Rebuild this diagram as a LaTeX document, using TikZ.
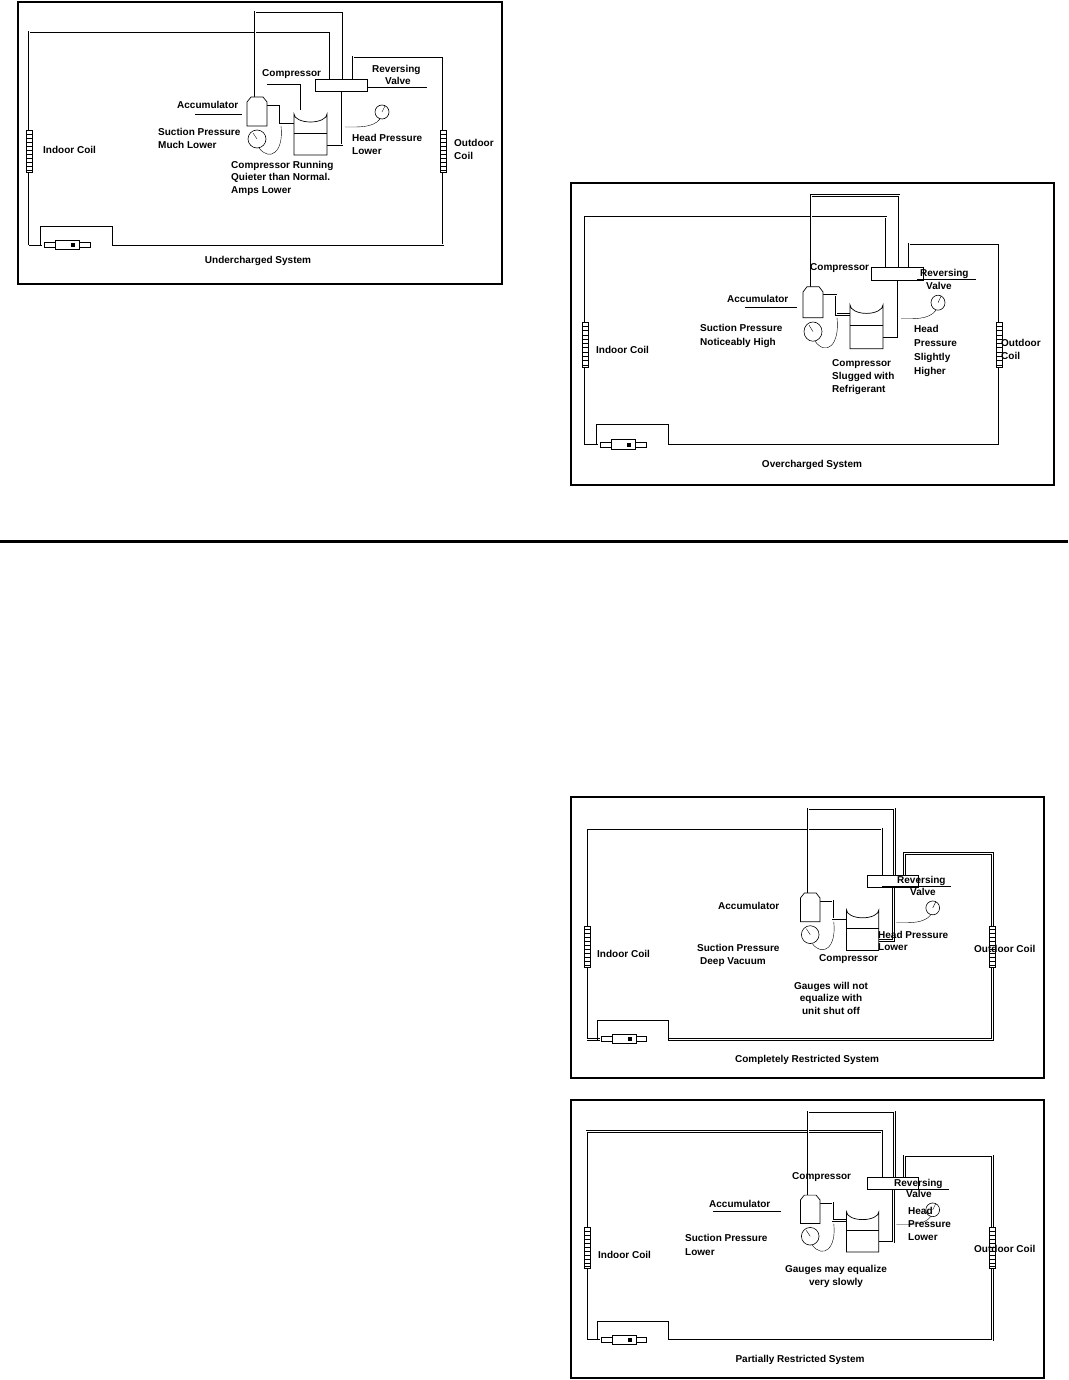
\documentclass[tikz,border=0pt]{standalone}
\usepackage{fontspec}
\setmainfont{Liberation Sans}
\usetikzlibrary{positioning}
\tikzset{
    % pipes drawn as hollow lines
    pipe/.style={draw=black, line width=2.4pt, line join=miter, postaction={draw=white, line width=1pt}},
    frame/.style={draw=black, line width=1.6pt},
    lbl/.style={font=\fontsize{10}{12}\selectfont\bfseries, inner sep=0pt, anchor=base west},
    ttl/.style={font=\fontsize{10}{12}\selectfont\bfseries, inner sep=0pt, anchor=base},
    lead/.style={draw=black, line width=0.5pt}
}
% one system drawing, in the coordinates of the first panel
\newcommand{\heatpump}{%
  % main loop
  \draw[pipe] (11,243) -- (11,30) -- (312,30) -- (312,77);
  \draw[pipe] (94,243) -- (425,243) -- (425,55) -- (335,55) -- (335,77);
  \draw[pipe] (11,243) -- (24,243);
  % accumulator loop
  \draw[pipe] (237,95) -- (237,10) -- (325,10) -- (325,77);
  \draw[pipe] (245,103) -- (262,103) -- (262,121) -- (276,121);
  \draw[pipe] (309,143) -- (324,143) -- (324,89);
  % coils
  \foreach \cx in {11,425}{
    \draw[fill=white] (\cx-3,128) rectangle (\cx+3,170);
    \foreach \k in {0,...,9} \draw (\cx-3,132+\k*4) -- (\cx+3,132+\k*4);
  }
  % metering device
  \draw[line width=0.8pt] (22,243) -- (22,224) -- (94,224) -- (94,243);
  \draw[fill=white] (26,240) rectangle (37,245);
  \draw[fill=white] (37,238) rectangle (61,247);
  \draw[fill=black] (53,241) rectangle (56,244);
  \draw[fill=white] (61,240) rectangle (72,245);
  % reversing valve
  \draw[fill=white, line width=0.7pt] (297,77) rectangle (349,89);
  % accumulator
  \draw[fill=white, line width=0.7pt] (229,124) -- (229,100) -- (233,95) -- (245,95) -- (249,100) -- (249,124) -- cycle;
  % compressor
  \draw[fill=white, line width=0.7pt] (276,153) -- (276,112) arc (180:0:16.5 and 8) -- (309,153) -- cycle;
  \draw[line width=0.7pt] (276,131) -- (309,131);
  % gauges
  \draw[line width=0.6pt] (239,137) circle (9);
  \draw (239,137) -- (235,131);
  \draw (241,146) .. controls (252,160) and (266,150) .. (263,124);
  \draw[line width=0.6pt] (364,110) circle (7);
  \draw (364,110) -- (367,104);
  \draw (362,117) .. controls (355,126) and (340,125) .. (327,125);
}
\newcommand{\board}[4]{% x, y, xscale, yscale
  \begin{scope}[shift={(#1,#2)}, xscale=#3, yscale=#4]
    \heatpump
  \end{scope}
}
\begin{document}
\begin{tikzpicture}[x=1pt, y=-1pt]
\useasboundingbox (0,0) rectangle (1068,1380);
% undercharged
\draw[frame] (18,2) rectangle (502,284);
\board{18}{2}{1}{1}
\node[lbl] (comp1) at (262,77) {Compressor};
\draw[lead] (267,84) -- (300,84) -- (300,110);
\node[lbl] (rv1) at (372,73) {Reversing};
\node[lbl] (vv1) at (385,85) {Valve};
\draw[lead] (367,87) -- (427,87);
\node[lbl] (acc1) at (177,109) {Accumulator};
\draw[lead] (195,114) -- (242,114);
\node[lbl] (suc1) at (158,136) {Suction Pressure};
\node[lbl] (suc1b) at (158,149) {Much Lower};
\node[lbl] (hp1) at (352,142) {Head Pressure};
\node[lbl] (hp1b) at (352,155) {Lower};
\node[lbl] (run1) at (231,169) {Compressor Running};
\node[lbl] (run1b) at (231,181) {Quieter than Normal.};
\node[lbl] (run1c) at (231,194) {Amps Lower};
\node[lbl] (in1) at (43,154) {Indoor Coil};
\node[lbl] (out1) at (454,147) {Outdoor};
\node[lbl] (out1b) at (454,160) {Coil};
\node[ttl] (t1) at (258,263) {Undercharged System};
% overcharged
\draw[frame] (571,183) rectangle (1054,485);
\board{574}{185}{1}{1.07}
\node[lbl] (comp2) at (810,270) {Compressor};
\node[lbl] (rv2) at (920,276) {Reversing};
\node[lbl] (vv2) at (926,289) {Valve};
\draw[lead] (917,279) -- (976,279);
\node[lbl] (acc2) at (727,302) {Accumulator};
\draw[lead] (745,307) -- (797,307);
\node[lbl] (suc2) at (700,331) {Suction Pressure};
\node[lbl] (suc2b) at (700,345) {Noticeably High};
\node[lbl] (sl2) at (832,366) {Compressor};
\node[lbl] (sl2b) at (832,379) {Slugged with};
\node[lbl] (sl2c) at (832,392) {Refrigerant};
\node[lbl] (hp2) at (914,332) {Head};
\node[lbl] (hp2b) at (914,346) {Pressure};
\node[lbl] (hp2c) at (914,360) {Slightly};
\node[lbl] (hp2d) at (914,374) {Higher};
\node[lbl] (in2) at (596,353) {Indoor Coil};
\node[lbl] (out2) at (1001,346) {Outdoor};
\node[lbl] (out2b) at (1001,359) {Coil};
\node[ttl] (t2) at (812,467) {Overcharged System};
% divider
\draw[line width=3pt] (0,541) -- (1068,541);
% completely restricted
\draw[frame] (571,797) rectangle (1044,1078);
\board{576}{799}{0.98}{0.99}
\node[lbl] (rv3) at (897,883) {Reversing};
\node[lbl] (vv3) at (910,895) {Valve};
\draw[lead] (882,886) -- (951,886);
\node[lbl] (acc3) at (718,909) {Accumulator};
\node[lbl] (suc3) at (697,951) {Suction Pressure};
\node[lbl] (suc3b) at (700,964) {Deep Vacuum};
\node[lbl] (comp3) at (819,961) {Compressor};
\node[lbl] (hp3) at (878,938) {Head Pressure};
\node[lbl] (hp3b) at (878,950) {Lower};
\node[ttl] (g3) at (831,989) {Gauges will not};
\node[ttl] (g3b) at (831,1001) {equalize with};
\node[ttl] (g3c) at (831,1014) {unit shut off};
\node[lbl] (in3) at (597,957) {Indoor Coil};
\node[lbl] (out3) at (974,952) {Outdoor Coil};
\node[ttl] (t3) at (807,1062) {Completely Restricted System};
% partially restricted
\draw[frame] (571,1100) rectangle (1044,1378);
\board{576}{1102}{0.98}{0.98}
\node[lbl] (comp4) at (792,1179) {Compressor};
\node[lbl] (rv4) at (894,1186) {Reversing};
\node[lbl] (vv4) at (906,1197) {Valve};
\draw[lead] (878,1189) -- (949,1189);
\node[lbl] (acc4) at (709,1207) {Accumulator};
\draw[lead] (713,1211) -- (781,1211);
\node[lbl] (suc4) at (685,1241) {Suction Pressure};
\node[lbl] (suc4b) at (685,1255) {Lower};
\node[lbl] (hp4) at (908,1214) {Head};
\node[lbl] (hp4b) at (908,1227) {Pressure};
\node[lbl] (hp4c) at (908,1240) {Lower};
\node[ttl] (g4) at (836,1272) {Gauges may equalize};
\node[ttl] (g4b) at (836,1285) {very slowly};
\node[lbl] (in4) at (598,1258) {Indoor Coil};
\node[lbl] (out4) at (974,1252) {Outdoor Coil};
\node[ttl] (t4) at (800,1362) {Partially Restricted System};
\end{tikzpicture}
\end{document}
